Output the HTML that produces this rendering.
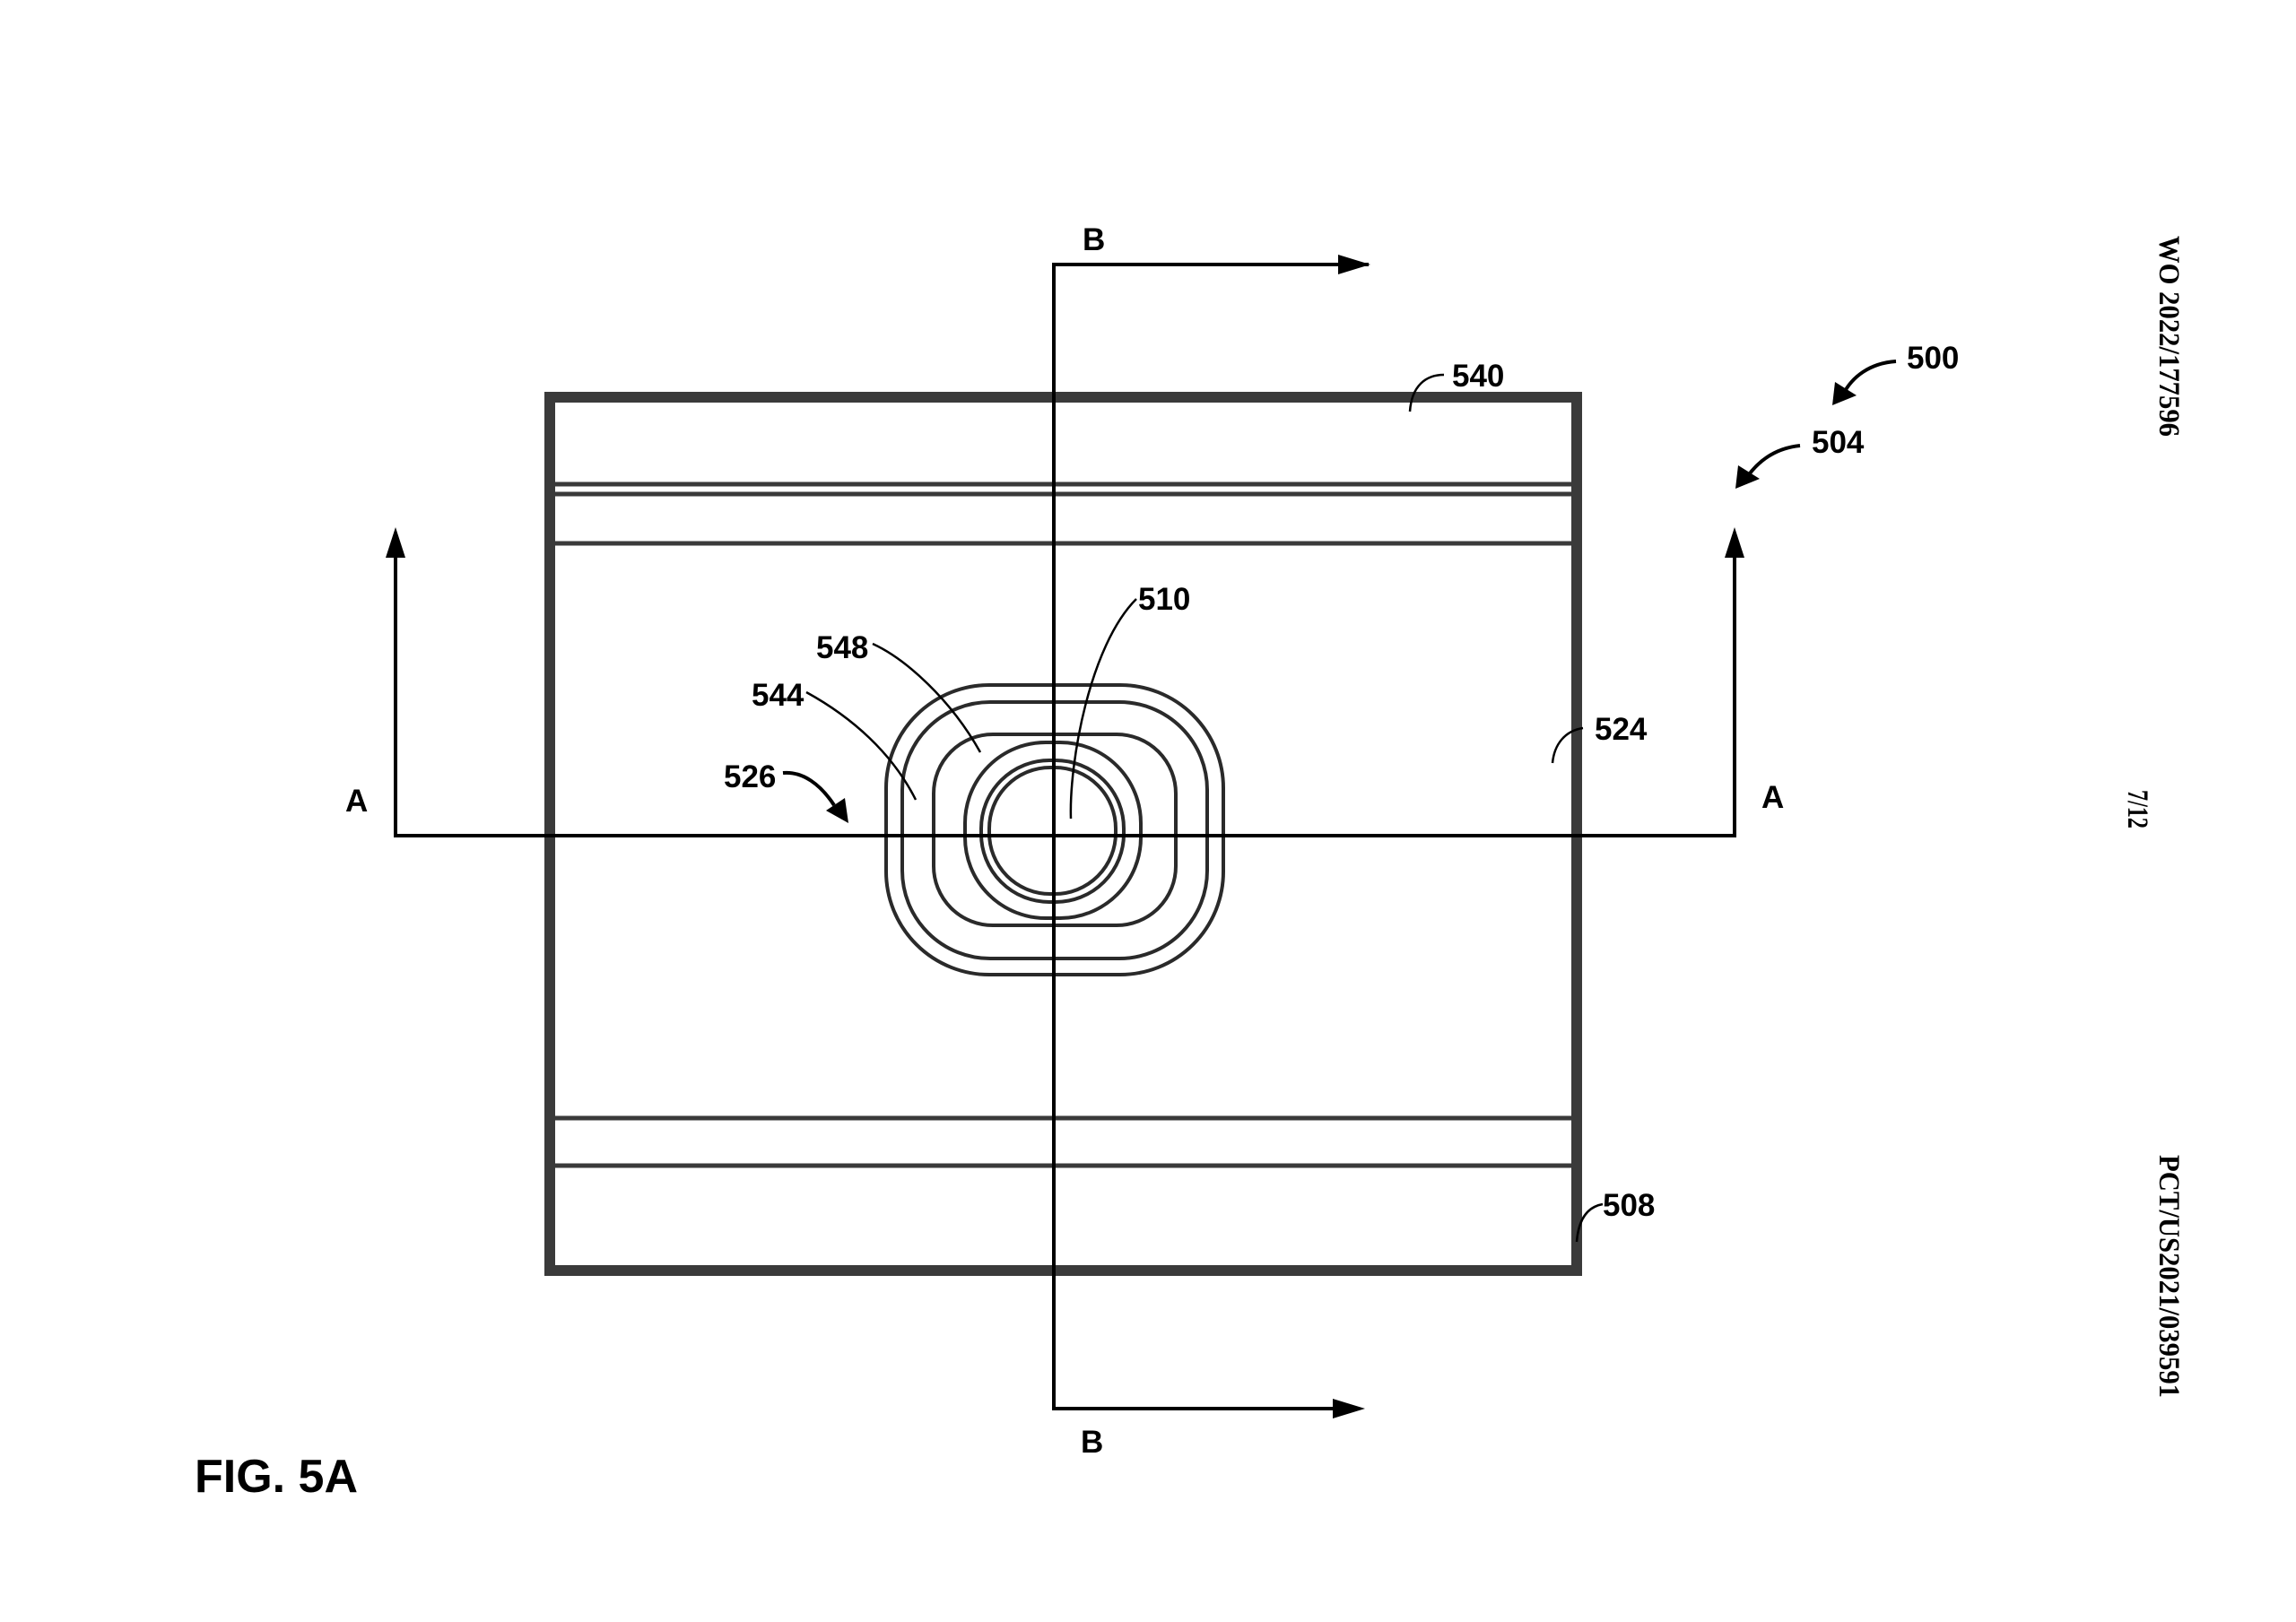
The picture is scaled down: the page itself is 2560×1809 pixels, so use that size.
<!DOCTYPE html>
<html><head><meta charset="utf-8"><style>
html,body{margin:0;padding:0;background:#fff;}
svg{display:block;}
.l{font-family:"Liberation Sans",Arial,sans-serif;font-weight:bold;font-size:35px;fill:#000;}
.s{font-family:"Liberation Serif",serif;font-weight:bold;font-size:33px;fill:#000;}
</style></head><body>
<svg width="2560" height="1809" viewBox="0 0 2560 1809" xmlns="http://www.w3.org/2000/svg">
<defs>
<marker id="ah" viewBox="0 0 10 10" refX="9" refY="5" markerWidth="10" markerHeight="10" markerUnits="userSpaceOnUse" orient="auto">
</marker>
</defs>
<!-- main box -->
<rect x="613" y="443" width="1145" height="974" fill="none" stroke="#3a3a3a" stroke-width="12"/>
<g stroke="#3a3a3a" stroke-width="5">
<line x1="619" y1="540" x2="1752" y2="540"/>
<line x1="619" y1="551" x2="1752" y2="551"/>
<line x1="619" y1="606" x2="1752" y2="606"/>
<line x1="619" y1="1247" x2="1752" y2="1247"/>
<line x1="619" y1="1300" x2="1752" y2="1300"/>
</g>
<!-- rounded rings -->
<g fill="none" stroke="#2a2a2a" stroke-width="4">
<rect x="988" y="764" width="376" height="323" rx="115" ry="115"/>
<rect x="1006" y="783" width="340" height="286" rx="98" ry="98"/>
<rect x="1041" y="819" width="270" height="213" rx="66" ry="66"/>
<rect x="1076" y="828" width="196" height="196" rx="90" ry="90"/>
<rect x="1094" y="848" width="159" height="158" rx="76" ry="76"/>
<rect x="1103" y="856" width="141" height="141" rx="68" ry="68"/>
</g>
<!-- section lines -->
<g stroke="#000" stroke-width="4" fill="none">
<polyline points="1526,295 1175,295 1175,1571 1490,1571"/>
<polyline points="441,600 441,932 1934,932 1934,600"/>
</g>
<g fill="#000">
<polygon points="1528,295 1492,284 1492,306"/>
<polygon points="1522,1571 1486,1560 1486,1582"/>
<polygon points="441,588 430,622 452,622"/>
<polygon points="1934,588 1923,622 1945,622"/>
</g>
<!-- leaders -->
<g stroke="#000" stroke-width="2.5" fill="none">
<path d="M1610,418 C1590,418 1574,430 1572,459"/>
<path d="M1765,812 C1745,815 1733,830 1731,851"/>
<path d="M1787,1343 C1770,1346 1760,1360 1758,1385"/>
<path d="M1267,668 C1215,720 1192,850 1194,913"/>
<path d="M973,718 C1010,735 1060,780 1093,839"/>
<path d="M899,772 C950,800 995,840 1021,892"/>
</g>
<g stroke="#000" stroke-width="4" fill="none">
<path d="M2114,403 C2085,405 2065,420 2055,440"/>
<path d="M2007,497 C1978,500 1960,515 1948,532"/>
<path d="M873,862 C895,860 915,875 930,898"/>
</g>
<g fill="#000">
<polygon points="2043,452 2046,426 2070,441"/>
<polygon points="1935,545 1938,519 1962,534"/>
<polygon points="946,918 921,904 942,890"/>
</g>
<!-- labels -->
<text class="l" x="1619" y="431">540</text>
<text class="l" x="2126" y="411">500</text>
<text class="l" x="2020" y="505">504</text>
<text class="l" x="1269" y="680">510</text>
<text class="l" x="910" y="734">548</text>
<text class="l" x="838" y="787">544</text>
<text class="l" x="807" y="878">526</text>
<text class="l" x="1778" y="825">524</text>
<text class="l" x="1787" y="1356">508</text>
<text class="l" x="1207" y="279">B</text>
<text class="l" x="1205" y="1620">B</text>
<text class="l" x="385" y="905">A</text>
<text class="l" x="1964" y="901">A</text>
<text x="217" y="1664" style="font-family:'Liberation Sans',Arial,sans-serif;font-weight:bold;font-size:52px" textLength="182" lengthAdjust="spacingAndGlyphs">FIG. 5A</text>
<!-- side text -->
<text class="s" transform="translate(2408,263) rotate(90)" textLength="224" lengthAdjust="spacingAndGlyphs">WO 2022/177596</text>
<text class="s" transform="translate(2373,881) rotate(90)" textLength="43" lengthAdjust="spacingAndGlyphs">7/12</text>
<text class="s" transform="translate(2408,1288) rotate(90)" textLength="271" lengthAdjust="spacingAndGlyphs">PCT/US2021/039591</text>
</svg>
</body></html>
